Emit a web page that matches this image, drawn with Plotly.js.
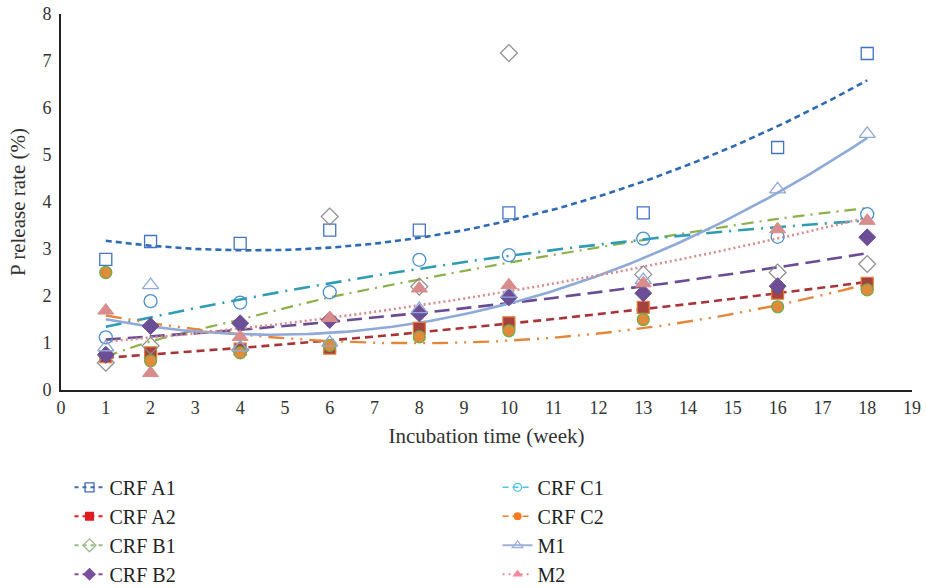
<!DOCTYPE html>
<html><head><meta charset="utf-8">
<script src="https://cdn.plot.ly/plotly-3.0.1.min.js"></script>
<style>html,body{margin:0;padding:0;background:#fff}#chart{width:926px;height:588px}</style>
</head><body><div id="chart"></div><script>
const weeks = [1, 2, 4, 6, 8, 10, 13, 16, 18];
const crfA1 = [2.78, 3.16, 3.12, 3.40, 3.40, 3.77, 3.77, 5.16, 7.16];
const crfA2 = [0.71, 0.79, 0.87, 0.89, 1.31, 1.43, 1.76, 2.06, 2.27];
const crfB1 = [0.58, 0.94, 0.85, 3.69, 2.20, 7.17, 2.46, 2.50, 2.68];
const crfB2 = [0.75, 1.36, 1.42, 1.49, 1.63, 1.97, 2.06, 2.21, 3.25];
const crfC1 = [1.12, 1.89, 1.86, 2.08, 2.77, 2.87, 3.22, 3.26, 3.74];
const crfC2 = [2.50, 0.62, 0.79, 0.95, 1.13, 1.26, 1.50, 1.77, 2.13];
const m1 = [0.91, 2.23, 0.91, 1.01, 1.72, 2.05, 2.34, 4.27, 5.45];
const m2 = [1.69, 0.36, 1.13, 1.53, 2.16, 2.23, 2.27, 3.42, 3.60];
// CRF B1 trendline as drawn in the source (at each week)
const crfB1Trend = [0.71, 1.03, 1.50, 1.97, 2.35, 2.71, 3.19, 3.64, 3.87];
const seriesNames = ['CRF A1', 'CRF A2', 'CRF B1', 'CRF B2', 'CRF C1', 'CRF C2', 'M1', 'M2'];
const xTicks = [0,1,2,3,4,5,6,7,8,9,10,11,12,13,14,15,16,17,18,19];
const yTicks = [0,1,2,3,4,5,6,7,8];

// second-order polynomial least-squares fit (Excel-style trendline)
function polyfit2(x, y) {
  let S = [0,0,0,0,0], T = [0,0,0];
  for (let i = 0; i < x.length; i++) {
    let p = 1;
    for (let k = 0; k < 5; k++) { S[k] += p; if (k < 3) T[k] += p * y[i]; p *= x[i]; }
  }
  const A = [[S[0],S[1],S[2],T[0]],[S[1],S[2],S[3],T[1]],[S[2],S[3],S[4],T[2]]];
  for (let c = 0; c < 3; c++) {
    for (let r = c + 1; r < 3; r++) {
      const f = A[r][c] / A[c][c];
      for (let k = c; k < 4; k++) A[r][k] -= f * A[c][k];
    }
  }
  const b = [0,0,0];
  for (let r = 2; r >= 0; r--) {
    let s = A[r][3];
    for (let k = r + 1; k < 3; k++) s -= A[r][k] * b[k];
    b[r] = s / A[r][r];
  }
  return b;
}
function trend(y) {
  const b = polyfit2(weeks, y);
  const xs = [], ys = [];
  const x0 = weeks[0], x1 = weeks[weeks.length - 1];
  for (let i = 0; i <= 170; i++) {
    const xv = x0 + (x1 - x0) * i / 170;
    xs.push(xv); ys.push(b[0] + b[1] * xv + b[2] * xv * xv);
  }
  return {x: xs, y: ys};
}

const data = [crfA1, crfA2, crfB1, crfB2, crfC1, crfC2, m1, m2];
const lineStyles = [
  {color: '#2E6AB2', width: 2.6, dash: '6px,4px'},
  {color: '#A8343A', width: 2.6, dash: '8px,5px'},
  {color: '#8DB04A', width: 2.2, dash: '12px,6px,2px,6px', shape: 'spline'},
  {color: '#6A4C93', width: 2.6, dash: '15px,7px'},
  {color: '#2E9CB3', width: 2.6, dash: '16px,7px,2px,7px'},
  {color: '#E5873A', width: 2.4, dash: '16px,7px,2px,7px,2px,7px'},
  {color: '#8FA9D9', width: 2.6, dash: 'solid'},
  {color: '#D98C8C', width: 2.6, dash: '2px,3px'}
];
const markerStyles = [
  {symbol: 'square-open', size: 12, color: '#4472C4', line: {width: 1.3, color: '#4472C4'}},
  {symbol: 'square', size: 12, color: '#A5413E', line: {width: 1.2, color: '#E07B39'}},
  {symbol: 'diamond-open', size: 13, color: '#8C8C8C', line: {width: 1.2, color: '#8C8C8C'}},
  {symbol: 'diamond', size: 13, color: '#6B4E96', line: {width: 1, color: '#6B4E96'}},
  {symbol: 'circle-open', size: 13, color: '#4A8FD0', line: {width: 1.3, color: '#4A8FD0'}},
  {symbol: 'circle', size: 12, color: '#E08A3C', line: {width: 1.3, color: '#70AD47'}},
  {symbol: 'triangle-up-open', size: 14, color: '#8FA9D9', line: {width: 1.3, color: '#8FA9D9'}},
  {symbol: 'triangle-up', size: 14, color: '#D98C8C', line: {width: 1, color: '#D98C8C'}}
];
const legendLine = [
  {color: '#3B6CB7', width: 2, dash: '4px,4px'},
  {color: '#E31A1C', width: 2, dash: '4px,4px'},
  {color: '#9BBB8A', width: 2, dash: '4px,4px'},
  {color: '#7A4FA0', width: 2, dash: '4px,4px'},
  {color: '#4DC3E8', width: 1.5, dash: '6px,4px'},
  {color: '#F47B20', width: 1.5, dash: '6px,4px'},
  {color: '#9CB0DA', width: 2, dash: 'solid'},
  {color: '#F08A9A', width: 2, dash: '2px,4px'}
];
const legendMarker = [
  {symbol: 'square-open', size: 9, color: '#3B6CB7', line: {width: 1.3, color: '#3B6CB7'}},
  {symbol: 'square', size: 9, color: '#E31A1C', line: {width: 0, color: '#E31A1C'}},
  {symbol: 'diamond-open', size: 10, color: '#9BBB8A', line: {width: 1.3, color: '#9BBB8A'}},
  {symbol: 'diamond', size: 10, color: '#7A4FA0', line: {width: 0, color: '#7A4FA0'}},
  {symbol: 'circle-open', size: 8, color: '#4DC3E8', line: {width: 1.3, color: '#4DC3E8'}},
  {symbol: 'circle', size: 8, color: '#F47B20', line: {width: 0, color: '#F47B20'}},
  {symbol: 'triangle-up-open', size: 9, color: '#9CB0DA', line: {width: 1.3, color: '#9CB0DA'}},
  {symbol: 'triangle-up', size: 9, color: '#F08A9A', line: {width: 0, color: '#F08A9A'}}
];

const traces = [];
data.forEach((y, i) => {
  const t = i === 2 ? {x: weeks, y: crfB1Trend} : trend(y);
  traces.push({x: t.x, y: t.y, mode: 'lines', line: lineStyles[i], showlegend: false, hoverinfo: 'skip'});
});
data.forEach((y, i) => {
  traces.push({x: weeks, y: y, mode: 'markers', marker: markerStyles[i], name: seriesNames[i], showlegend: false});
});
seriesNames.forEach((n, i) => {
  traces.push({x: [null], y: [null], mode: 'lines+markers', name: n, line: legendLine[i], marker: legendMarker[i],
    legend: i < 4 ? 'legend' : 'legend2', legendgroup: 'g' + i, showlegend: true});
});

const serif = "'Liberation Serif', 'DejaVu Serif', serif";
const legendCommon = {
  font: {family: serif, size: 20, color: '#222'},
  bgcolor: 'rgba(0,0,0,0)', tracegroupgap: 0, traceorder: 'grouped',
  xanchor: 'left', yanchor: 'top', orientation: 'v'
};
const layout = {
  width: 926, height: 588,
  margin: {l: 61, r: 14, t: 14, b: 198, autoexpand: false},
  paper_bgcolor: '#fff', plot_bgcolor: '#fff',
  font: {family: serif, color: '#333'},
  xaxis: {
    range: [0, 19], tickvals: xTicks, ticktext: xTicks.map(String),
    showgrid: false, zeroline: false, showline: true, linecolor: '#222', linewidth: 2,
    ticks: '', tickfont: {family: serif, size: 18, color: '#333'},
    title: {text: 'Incubation time (week)', font: {family: serif, size: 21, color: '#333'}, standoff: 12},
    automargin: false
  },
  yaxis: {
    range: [0, 8], tickvals: yTicks, ticktext: yTicks.map(String),
    showgrid: false, zeroline: false, showline: true, linecolor: '#222', linewidth: 2,
    ticks: '', ticklen: 0, ticklabelstandoff: 4, tickfont: {family: serif, size: 18, color: '#333'},
    title: {text: 'P release rate (%)', font: {family: serif, size: 21, color: '#333'}, standoff: 11},
    automargin: false
  },
  legend: Object.assign({}, legendCommon, {x: 0.01, y: -0.207}),
  legend2: Object.assign({}, legendCommon, {x: 0.513, y: -0.207}),
  showlegend: true
};
Plotly.newPlot('chart', traces, layout, {displayModeBar: false, staticPlot: true});
</script></body></html>
